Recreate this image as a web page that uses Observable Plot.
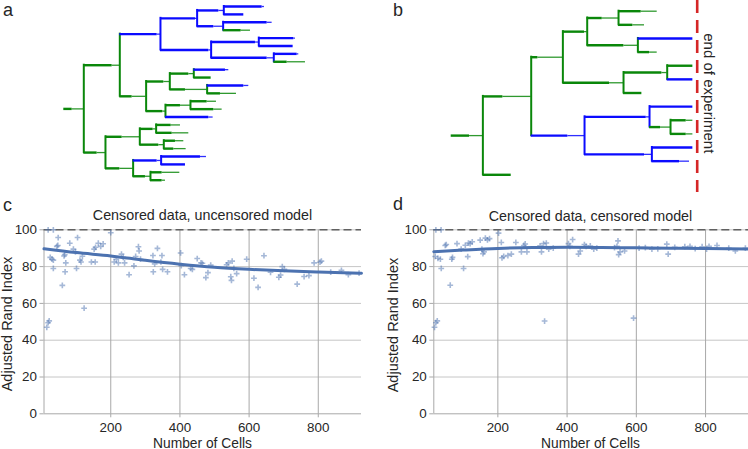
<!DOCTYPE html>
<html><head><meta charset="utf-8">
<script src="https://cdn.jsdelivr.net/npm/d3@7"></script>
<script src="https://cdn.jsdelivr.net/npm/@observablehq/plot@0.6"></script>
<style>
body{margin:0;background:#fff;}
#root{position:relative;width:748px;height:449px;overflow:hidden;background:#fff;}
.panel{position:absolute;}
#overlay{position:absolute;left:0;top:0;pointer-events:none;}
</style></head>
<body><div id="root"></div>
<script>
const FONT = '"Liberation Sans", Arial, Helvetica, sans-serif';
const BLUE = "#0b0bff", GREEN = "#0a870a";

// Lineage trees: [cell, parent, state, thick-phase duration, thin-phase duration]
const treeA = [
  ["r","","g",25,35],
  ["A","r","g",85,23],
  ["A1","A","b",112,10],
  ["A1a","A1","b",105,5],
  ["A1a1","A1a","b",65,15],
  ["L1","A1a1","b",115,7],
  ["L2","A1a1","b",60,0],
  ["A1a2","A1a","b",50,28],
  ["L3","A1a2","b",132,15],
  ["L4","A1a2","g",54,28],
  ["A1b","A1","b",145,7],
  ["A1b1","A1b","b",133,10],
  ["L5","A1b1","b",105,5],
  ["L6","A1b1","b",103,0],
  ["A1b2","A1b","b",168,20],
  ["L7","A1b2","b",70,5],
  ["L8","A1b2","g",40,55],
  ["A2","A","g",37,42],
  ["A2a","A2","g",53,18],
  ["A2a1","A2a","g",57,15],
  ["L9","A2a1","b",95,10],
  ["L10","A2a1","g",52,0],
  ["A2a2","A2a","g",47,65],
  ["L11","A2a2","b",110,15],
  ["L12","A2a2","g",40,48],
  ["A2b","A2","g",50,8],
  ["A2b1","A2b","g",45,30],
  ["L13","A2b1","g",50,28],
  ["L14","A2b1","g",70,25],
  ["L15","A2b","b",130,13],
  ["B","r","g",40,25],
  ["B1","B","g",50,53],
  ["B1a","B1","g",40,9],
  ["L16","B1a","g",45,28],
  ["L17","B1a","g",48,50],
  ["B1b","B1","g",57,15],
  ["L18","B1b","g",35,25],
  ["L19","B1b","g",30,37],
  ["B2","B","g",43,40],
  ["B2a","B2","b",72,12],
  ["L20","B2a","b",118,18],
  ["L21","B2a","b",73,0],
  ["B2b","B2","g",37,15],
  ["L22","B2b","g",35,53],
  ["L23","B2b","g",35,10]
];
const treeB = [
  ["r","","g",55,40],
  ["A","r","g",60,85],
  ["A1","A","g",20,75],
  ["A1a","A1","g",65,8],
  ["A1a1","A1a","g",45,49],
  ["L1","A1a1","g",68,48],
  ["L2","A1a1","g",43,35],
  ["A1a2","A1a","g",110,42],
  ["L3","A1a2","b",165,0],
  ["L4","A1a2","g",35,23],
  ["A1b","A1","g",140,42],
  ["A1b1","A1b","g",115,16],
  ["L5","A1b1","g",77,0],
  ["L6","A1b1","b",77,0],
  ["L7","A1b","g",55,0],
  ["A2","A","b",110,50],
  ["A2a","A2","b",185,10],
  ["L8","A2a","b",130,0],
  ["A2a2","A2a","g",33,30],
  ["L9","A2a2","g",47,20],
  ["L10","A2a2","g",47,20],
  ["A2b","A2","b",180,22],
  ["L11","A2b","b",123,0],
  ["L12","A2b","b",83,30],
  ["B","r","g",85,0]
];
const experimentEnd = 738;
const experimentLabel = "end of experiment";

// Scatter panels
const cCells = [15,19,22,19,34,25,30,34,34,44,47,48,60,65,67,70,68,81.5,92,98,104,101,111,114,118,123,144,152,156,155,164,171,178,200,210,216,222,231,236,240,253,267,272,280,282,286,322,323,327,335,345,348,350,364,402,404,413,431,436,450,461,465,475,481,489,535,540,547,549,551,556,564,593,614,626,643,662,686,691,696,702,739,759,773,788,805,809,836,867,887,918];
const cARI = [47,49.5,50.5,100,100,85,84,83.5,79,91,91.5,95.8,69.8,85.8,86.5,82,77.2,92.7,89.5,88,95.8,79,83.5,82.5,85.6,57.4,82.5,89.5,90.5,82.5,92.7,91,92.4,98.4,82.5,84,82,86.8,85,82,75.6,80.4,85.5,90.8,88.5,84,86,77.2,81.5,89.9,82.5,86,78.5,77.2,87.4,80.5,75.6,79,78.5,84.4,82,81.8,74,76.7,80.8,81,82,74.5,72.5,83,79,76.2,84,73.7,68.7,85.9,76.9,74.2,75.4,80,78.5,70.5,74.6,75.1,82,82.4,83,77,78,75.6,76.5];
const cFitCells = [7,100,200,300,400,500,600,700,800,925];
const cFitARI = [89.7,87.6,85.8,83.4,81.3,79.6,78.5,77.7,77.1,76.4];

const dCells = [21,36,17,21,25,19,27,34,36.5,48,51,62.5,67,69,82,94,101,106,113,115,120,126,149,154,157,160,164,170,176,202,210,212,217,229,239,252,268,275,279,284,322,326,332,335,340,347,360,404,408,416,433,438,450,455,467,477,486,537,544,547,549,553,566,592,608,626,645,662,688,692,711,740,755,770,790,803,810,833,867,886,915];
const dARI = [100,100,47,49.5,50.5,85.5,84.5,84,79,91.5,92,69.9,84,85,92.5,89.5,79,91.6,85.4,92.8,92.5,93.5,94.4,89.5,87,88,95.5,94.5,95.2,98.2,93.1,84.8,85.5,86,86.8,93.1,88,91.5,92.3,88,91.3,88,92.5,50.4,92.8,89.5,90,92.5,91,94.7,86.8,88.5,92,91,91.2,89.5,90,90.3,91,94,86.5,88,88.5,52,90,90.3,89.5,89.7,92.2,86.8,90.5,90.8,91,89.8,90.8,89.5,91,91.5,90,88.5,90];
const dFitCells = [15,100,200,300,400,500,600,700,800,924];
const dFitARI = [88.1,89.0,89.9,90.4,90.5,90.4,90.2,90.0,89.9,89.6];

const xTicks = [200,400,600,800];
const yTicks = [0,20,40,60,80,100];
const panelTitles = ["Censored data, uncensored model","Censored data, censored model"];
const xLabel = "Number of Cells", yLabel = "Adjusted Rand Index";
const panelLetters = ["a","b","c","d"];

const root = document.getElementById("root");
const col = s => s === "b" ? BLUE : GREEN;

function layoutTree(rows){
  const h = d3.stratify().id(d=>d[0]).parentId(d=>d[1]||null)(rows);
  h.eachBefore(n=>{ const g1=n.data[3], g2=n.data[4]; n.t0 = n.parent ? n.parent.t2 : 0; n.t1 = n.t0+g1; n.t2 = n.t1+g2; n.s = n.data[2]; });
  let k = 0;
  h.eachBefore(n=>{ if(!n.children) n.row = k++; });
  h.eachAfter(n=>{ if(n.children) n.row = (n.children[0].row + n.children[n.children.length-1].row)/2; });
  const nodes = h.descendants();
  return {
    thick: nodes.map(n=>({x1:n.t0,x2:n.t1,y:n.row,c:col(n.s)})),
    thin: nodes.filter(n=>n.t2>n.t1).map(n=>({x1:n.t1,x2:n.t2,y:n.row,c:col(n.s)})),
    forks: nodes.filter(n=>n.children).map(n=>({x:n.t2,y1:n.children[0].row,y2:n.children[n.children.length-1].row,c:col(n.s)})),
    leaves: k
  };
}

function place(el, left, top){
  const d = document.createElement("div");
  d.className = "panel"; d.style.left = left+"px"; d.style.top = top+"px";
  d.appendChild(el); root.appendChild(d);
}

function treePlot(rows, o){
  const t = layoutTree(rows);
  return Plot.plot({
    width:374, height:195,
    marginLeft:o.ml, marginRight:o.mr, marginTop:o.mt, marginBottom:o.mb,
    x:{domain:o.xDomain, axis:null}, y:{domain:[0,t.leaves-1], reverse:true, axis:null},
    color:{type:"identity"},
    style:{background:"transparent", overflow:"visible"},
    marks:[
      Plot.ruleY(t.thin,{y:"y",x1:"x1",x2:"x2",stroke:"c",strokeWidth:1.3,strokeOpacity:0.85}),
      Plot.ruleX(t.forks,{x:"x",y1:"y1",y2:"y2",stroke:"c",strokeWidth:2,strokeLinecap:"square"}),
      Plot.ruleY(t.thick,{y:"y",x1:"x1",x2:"x2",stroke:"c",strokeWidth:2.4}),
      ...(o.extra||[])
    ]
  });
}

place(treePlot(treeA,{ml:63.3,mr:10.7,mt:6,mb:15.3,xDomain:[0,900]}),0,0);
place(treePlot(treeB,{ml:76.7,mr:2.3,mt:10.7,mb:20.7,xDomain:[0,885],extra:[
  Plot.ruleX([experimentEnd],{stroke:"#d52626",strokeWidth:2.6,strokeDasharray:"13,7",insetTop:-10.7,insetBottom:-17.7})
]}),374,0);

function scatterPlot(xs, ys, fx, fy, domain, ml, mr){
  const pts = xs.map((x,i)=>({x, y:ys[i]}));
  const fit = fx.map((x,i)=>({x, y:fy[i]}));
  return Plot.plot({
    width:374, height:249,
    marginLeft:ml, marginRight:mr, marginTop:29.3, marginBottom:35.7,
    x:{domain, label:null}, y:{domain:[0,100], label:null},
    style:{background:"transparent", overflow:"visible", fontFamily:FONT, fontSize:"13.4px", color:"#262626"},
    marks:[
      Plot.gridY({ticks:[20,40,60,80,100], stroke:"#c6c6c6", strokeOpacity:1}),
      Plot.gridX({ticks:xTicks, stroke:"#a8a8a8", strokeOpacity:1}),
      Plot.ruleX([domain[0]],{stroke:"#a8a8a8"}),
      Plot.ruleY([0],{stroke:"#a8a8a8"}),
      Plot.axisX({ticks:xTicks, tickSize:4, tickPadding:4.5, stroke:"#a8a8a8", label:null}),
      Plot.axisY({ticks:yTicks, tickSize:4, tickPadding:3, stroke:"#a8a8a8", label:null}),
      Plot.ruleY([100],{stroke:"#616161",strokeWidth:1.6,strokeDasharray:"8,4"}),
      Plot.dot(pts,{x:"x",y:"y",symbol:"plus",r:2,stroke:"#4c72b0",strokeOpacity:0.5,strokeWidth:1.6}),
      Plot.line(fit,{x:"x",y:"y",curve:"monotone-x",stroke:"#4c72b0",strokeWidth:3})
    ]
  });
}

place(scatterPlot(cCells,cARI,cFitCells,cFitARI,[7,925],43.5,13),0,200);
place(scatterPlot(dCells,dARI,dFitCells,dFitARI,[15,924],59.3,0),374,200);

// Text overlay
const svg = d3.create("svg").attr("id","overlay").attr("width",748).attr("height",449)
  .style("font-family",FONT).style("fill","#262626");
const txt = (s,x,y,size,anchor,rot)=>{
  const t = svg.append("text").text(s).attr("font-size",size).attr("text-anchor",anchor||"start");
  if(rot) t.attr("transform",`translate(${x},${y}) rotate(${rot})`); else t.attr("x",x).attr("y",y);
};
txt(panelLetters[0],3,16,18);
txt(panelLetters[1],393,16,18);
txt(panelLetters[2],3,211,18);
txt(panelLetters[3],393,209.5,18);
txt(panelTitles[0],202.5,220,14.3,"middle");
txt(panelTitles[1],590.5,221,14.3,"middle");
txt(xLabel,202.5,447.5,13.8,"middle");
txt(xLabel,590.5,447.5,13.8,"middle");
txt(yLabel,12,324,14.5,"middle",-90);
txt(yLabel,398,325,14.5,"middle",-90);
txt(experimentLabel,703.5,93.3,15,"middle",90);
root.appendChild(svg.node());
</script>
</body></html>
